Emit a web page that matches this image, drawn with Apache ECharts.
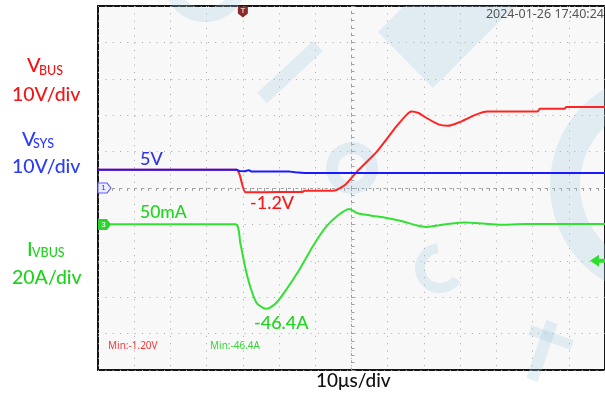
<!DOCTYPE html>
<html lang="en">
<head>
    <meta charset="UTF-8">
    <title>VBUS reverse</title>
    <script src="https://cdn.jsdelivr.net/npm/echarts@6/dist/echarts.min.js"></script>
    <style>
        *{
            padding:0;
            margin:0;
        }
        html,body{
            height:100%;
            background:#fff;
        }
        #main{
            width:605px;
            height:395px;
        }
    </style>
</head>
<body>
<div id="main"></div>
<script>
    // time axis: us from trigger, 10us/div, 14 div on screen
    var timeTicks = [-40, 100, 10];

    // VSYS (ch1, blue), volts
    var vsysT = [-40, -1.6, -1.0, 0.6, 1.6, 2.4, 13.0, 14.5, 17.0, 100];
    var vsysV = [5.0, 5.0, 4.7, 4.6, 4.9, 4.5, 4.5, 4.3, 4.1, 4.1];

    // VBUS (ch2, red), volts
    var vbusT = [-40, -1.8, 0.8, 10, 16.4, 17.0, 25.0, 28.3, 31.5, 37.0, 42.4, 45.2, 46.5, 48.5, 50.6, 54.2, 56.5, 59.6, 64.2, 67.5, 81.4, 82.0, 88.8, 89.3, 100];
    var vbusV = [5.0, 5.0, -1.2, -1.1, -1.1, -0.75, -0.75, 0.9, 4.5, 10.0, 16.9, 20.1, 21.0, 20.6, 19.3, 17.4, 17.1, 18.0, 20.1, 21.0, 21.0, 21.8, 21.8, 22.25, 22.25];

    // IVBUS (ch3, green), amps
    var ibusT = [-40, -2.1, -0.7, 0.6, 2.0, 3.8, 5.6, 6.5, 7.4, 9.2, 12.0, 15.6, 19.3, 22.9, 26.3, 29.3, 31.5, 35.2, 39.7, 44.3, 47.9, 50.6, 53.3, 57.0, 61.5, 64.2, 70.6, 77.9, 100];
    var ibusA = [0.05, 0.05, -10.2, -23.1, -34.0, -43.2, -45.9, -46.4, -45.9, -43.2, -35.8, -24.9, -12.1, -1.5, 5.0, 8.5, 6.3, 4.9, 3.5, 1.6, -0.5, -1.4, -0.7, 0.4, 1.1, 0.8, -0.2, 0.2, 0.2];

    var trigLevel = -20;

    function pairs(t, v) {
        var out = [];
        for (var i = 0; i < t.length; i++) out.push([t[i], v[i]]);
        return out;
    }

    var gridDot = {color: '#a8a8a8', width: 1, type: [1, 6.33]};
    var wm = 'rgba(160,200,225,0.28)';
    var lf = '500 ';

    var myChart = echarts.init(document.getElementById('main'));
    var option = {
        animation: false,
        grid: {
            left: 98, top: 6, width: 513, height: 364,
            show: true, backgroundColor: '#f8f8f8', borderColor: '#151515', borderWidth: 2
        },
        xAxis: [
            {
                type: 'value', min: timeTicks[0], max: timeTicks[1], interval: timeTicks[2],
                axisLabel: {show: false},
                axisLine: {show: true, onZero: true, onZeroAxisIndex: 0, lineStyle: {color: '#a0a0a0', width: 1, type: [2, 5.33]}},
                axisTick: {show: true, length: 3, lineStyle: {color: '#a0a0a0'}},
                minorTick: {show: true, splitNumber: 5, length: 3, lineStyle: {color: '#a0a0a0'}},
                splitLine: {show: true, lineStyle: gridDot}
            },
            {type: 'value', min: -70, max: 70, show: false}
        ],
        yAxis: [
            {
                type: 'value', min: -50, max: 50, interval: 10,
                axisLabel: {show: false}, axisLine: {show: false}, axisTick: {show: false},
                splitLine: {show: true, lineStyle: gridDot}
            },
            {type: 'value', min: -80, max: 120, interval: 20, show: false},
            {
                type: 'value', min: -50, max: 50, interval: 10,
                axisLabel: {show: false}, splitLine: {show: false},
                axisLine: {show: true, onZero: true, onZeroAxisIndex: 1, lineStyle: {color: '#a0a0a0', width: 1, type: [2, 5.28]}},
                axisTick: {show: true, length: 3, lineStyle: {color: '#a0a0a0'}},
                minorTick: {show: true, splitNumber: 5, length: 3, lineStyle: {color: '#a0a0a0'}}
            }
        ],
        graphic: [
            // faint watermark
            {type: 'ring', z: 1, silent: true, shape: {cx: 662, cy: 185, r: 112, r0: 82}, style: {fill: wm}},
            {type: 'ring', z: 1, silent: true, shape: {cx: 352, cy: 168, r: 26, r0: 14}, style: {fill: wm}},
            {type: 'arc', z: 1, silent: true, shape: {cx: 440, cy: 268, r: 20, startAngle: 0.6, endAngle: 4.6}, style: {stroke: wm, lineWidth: 10, fill: null}},
            {type: 'arc', z: 1, silent: true, shape: {cx: 205, cy: -20, r: 35, startAngle: 0.2, endAngle: 2.8}, style: {stroke: wm, lineWidth: 14, fill: null}},
            {type: 'line', z: 1, silent: true, shape: {x1: 262, y1: 98, x2: 318, y2: 46}, style: {stroke: wm, lineWidth: 14}},
            {type: 'polygon', z: 1, silent: true, shape: {points: [[378, 32], [404, 6], [515, 6], [433, 88]]}, style: {fill: wm}},
            {type: 'line', z: 1, silent: true, shape: {x1: 552, y1: 322, x2: 532, y2: 380}, style: {stroke: wm, lineWidth: 12}},
            {type: 'line', z: 1, silent: true, shape: {x1: 530, y1: 330, x2: 572, y2: 345}, style: {stroke: wm, lineWidth: 10}},
            // channel labels
            {type: 'text', left: 27, top: 56, style: {text: 'V', fill: '#f21515', font: lf + '20px Lato'}},
            {type: 'text', left: 39, top: 64, style: {text: 'BUS', fill: '#f21515', font: lf + '12.5px Lato'}},
            {type: 'text', left: 12, top: 85, style: {text: '10V/div', fill: '#f21515', font: lf + '19.5px Lato'}},
            {type: 'text', left: 22, top: 130, style: {text: 'V', fill: '#2d3cf5', font: lf + '20px Lato'}},
            {type: 'text', left: 33, top: 137, style: {text: 'SYS', fill: '#2d3cf5', font: lf + '12.5px Lato'}},
            {type: 'text', left: 12, top: 157, style: {text: '10V/div', fill: '#2d3cf5', font: lf + '19.5px Lato'}},
            {type: 'text', left: 27, top: 240, style: {text: 'I', fill: '#1ed41e', font: lf + '20px Lato'}},
            {type: 'text', left: 32, top: 246, style: {text: 'VBUS', fill: '#1ed41e', font: lf + '12.5px Lato'}},
            {type: 'text', left: 12, top: 268, style: {text: '20A/div', fill: '#1ed41e', font: lf + '19.5px Lato'}},
            // annotations
            {type: 'text', left: 140, top: 150, z: 10, style: {text: '5V', fill: '#3333e6', font: lf + '18px Lato'}},
            {type: 'text', left: 250, top: 194, z: 10, style: {text: '-1.2V', fill: '#f01a1a', font: lf + '18px Lato'}},
            {type: 'text', left: 140, top: 203, z: 10, style: {text: '50mA', fill: '#22d422', font: lf + '17.5px Lato'}},
            {type: 'text', left: 254, top: 314, z: 10, style: {text: '-46.4A', fill: '#22d422', font: lf + '18px Lato'}},
            {type: 'text', left: 108, top: 341, z: 10, style: {text: 'Min:-1.20V', fill: '#f03a3a', font: '10px Noto Sans'}},
            {type: 'text', left: 210, top: 341, z: 10, style: {text: 'Min:-46.4A', fill: '#3ad43a', font: '10px Noto Sans'}},
            {type: 'text', right: 1, top: 8, z: 10, style: {text: '2024-01-26 17:40:24', fill: '#555', font: '12.5px Noto Sans'}},
            {type: 'text', left: 316, top: 371, style: {text: '10\u03bcs/div', fill: '#111', font: lf + '19px Lato'}}
        ],
        series: [
            {
                name: 'IVBUS', type: 'line', xAxisIndex: 0, yAxisIndex: 1, z: 3,
                data: pairs(ibusT, ibusA), showSymbol: false, smooth: 0.25,
                lineStyle: {color: '#35e035', width: 2},
                markPoint: {
                    silent: true,
                    data: [
                        {coord: [-40, 0], symbol: 'path://M0,0 L9,0 L13,5.5 L9,11 L0,11 Z', symbolSize: [13, 11], symbolOffset: [6.5, 0],
                            itemStyle: {color: '#2ed42e'}, label: {show: true, formatter: '3', color: '#fff', fontSize: 8, offset: [-1, 0]}},
                        {coord: [100, trigLevel], symbol: 'path://M0,6 L9,0 L9,4 L16,4 L16,8 L9,8 L9,12 Z', symbolSize: [16, 12], symbolOffset: [-7, 0],
                            itemStyle: {color: '#2ee02e'}, label: {show: false}}
                    ]
                }
            },
            {
                name: 'VBUS', type: 'line', xAxisIndex: 0, yAxisIndex: 0, z: 4,
                data: pairs(vbusT, vbusV), showSymbol: false, smooth: 0.2,
                lineStyle: {color: '#ff2424', width: 2},
                markPoint: {
                    silent: true,
                    data: [
                        {coord: [0, 50], symbol: 'path://M0,0 L10,0 L10,7 L5,11 L0,7 Z', symbolSize: [10, 11], symbolOffset: [0, 6],
                            itemStyle: {color: '#8c2a2a'}, label: {show: true, formatter: 'T', color: '#fff', fontSize: 8, offset: [0, -1]}}
                    ]
                }
            },
            {
                name: 'VSYS', type: 'line', xAxisIndex: 0, yAxisIndex: 0, z: 5,
                data: pairs(vsysT, vsysV), showSymbol: false,
                lineStyle: {color: '#1a1aff', width: 2},
                markPoint: {
                    silent: true,
                    data: [
                        {coord: [-40, 0], symbol: 'path://M0,0 L9,0 L13,5 L9,10 L0,10 Z', symbolSize: [13, 10], symbolOffset: [6.5, 0],
                            itemStyle: {color: '#ececff', borderColor: '#6060e8', borderWidth: 1},
                            label: {show: true, formatter: '1', color: '#3a3ae0', fontSize: 8, offset: [-1, 0]}}
                    ]
                }
            }
        ]
    };
    myChart.setOption(option);
</script>
</body>
</html>
